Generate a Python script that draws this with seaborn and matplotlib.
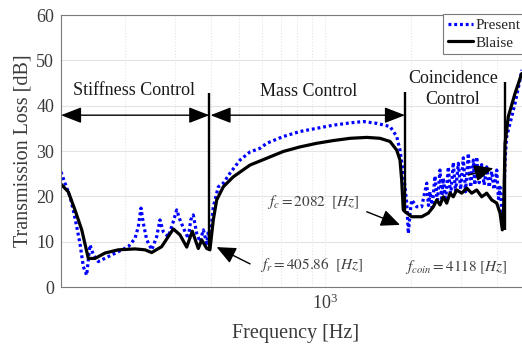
import numpy as np
import pandas as pd
import seaborn as sns
import matplotlib
matplotlib.use("Agg")
import matplotlib.pyplot as plt
from matplotlib.ticker import NullFormatter, LogLocator, FixedLocator

# ---------------- data ----------------
present_freq = [119.4, 123.3, 128.4, 131.8, 135.5, 139.1, 142.9, 146.8, 148.8, 150.8,
                154.9, 161.2, 174.7, 189.4, 205.3, 216.6, 222.5, 227.3, 231.6, 238.1,
                247.9, 257.9, 264.9, 272.0, 283.2, 294.8, 303.0, 311.2, 324.0, 332.7,
                339.2, 346.4, 356.0, 365.6, 375.5, 385.9, 390.8, 396.0,
                406.9, 423.6, 441, 465.4, 504.5, 546.8, 592.6, 625.5, 714.8, 817.5,
                935.5, 1069, 1223, 1361, 1516, 1688, 1781, 1829, 1878, 1904, 1931,
                1956, 1983, 2010, 2093, 2178, 2268, 2300, 2329, 2370, 2424, 2470,
                2524, 2560, 2592, 2640, 2699, 2750, 2809, 2860, 2925, 2980, 3045,
                3100, 3170, 3230, 3300, 3340, 3392, 3460, 3531, 3600, 3676, 3750,
                3827, 3900, 3985, 4040, 4093, 4150, 4209, 4261, 4318, 4436, 4617,
                4806, 4874]
present_tl = [25.4, 22.9, 19.9, 17.0, 13.3, 9.6, 4.5, 2.6, 6.0, 9.3,
              7.1, 5.6, 6.7, 7.8, 8.9, 10.7, 13.3, 17.4, 14.1, 10.4,
              8.2, 11.1, 14.8, 12.2, 11.1, 14.4, 17.0, 14.8, 12.2, 10.7,
              14.8, 15.9, 11.8, 10.0, 12.6, 9.6, 12.2, 10.5,
              17.7, 22.1, 22.9, 25.1, 28.0, 29.8, 30.6, 31.7, 33.2, 34.3,
              35.0, 35.7, 36.2, 36.5, 36.1, 35.4, 33.2, 30.2, 25.1, 22.1, 18.5,
              11.8, 16.3, 19.2, 17.7, 17.7, 22.9, 18.0, 21.0, 17.5, 24.5, 18.5,
              25.8, 19.5, 24.0, 19.0, 26.5, 20.0, 27.5, 21.0, 27.3, 21.5, 28.5,
              21.0, 29.5, 22.0, 28.0, 22.5, 28.7, 23.0, 27.0, 22.5, 26.5, 22.0,
              25.5, 21.5, 25.8, 19.5, 22.0, 17.0, 15.5, 28.0, 33.2, 36.1, 40.5,
              45.7, 47.9]

blaise_freq = [119.4, 126.6, 133.6, 141.1, 148.8, 157.0, 170.2, 189.4, 216.6, 234.8,
               247.7, 268.5, 294.9, 311.2, 328.5, 343.6, 360.6, 370.6, 385.9, 396.0,
               406.9, 418.1, 441, 477.9, 546.8, 625.5, 714.8, 817.5, 935.5, 1069,
               1223, 1399, 1557, 1688, 1781, 1829, 1854, 1878, 1904, 2010, 2178,
               2297, 2392, 2459, 2524, 2592, 2664, 2736, 2809, 2887, 3006, 3130,
               3258, 3392, 3531, 3676, 3827, 3985, 4093, 4169, 4216, 4261, 4375,
               4617, 4874]
blaise_tl = [22.7, 21.0, 17.0, 12.6, 6.3, 6.3, 7.5, 8.2, 8.4, 8.2,
             7.6, 8.9, 12.8, 11.5, 8.8, 12.3, 8.5, 10.4, 8.5, 8.2,
             14.8, 19.2, 22.1, 24.3, 26.9, 28.4, 29.9, 30.9, 31.7, 32.3,
             32.8, 33.0, 32.8, 32.1, 30.2, 28.0, 23.6, 17.0, 16.6, 15.5, 15.5,
             16.3, 17.7, 19.2, 18.1, 19.9, 18.5, 20.7, 19.9, 21.4, 20.7, 21.8,
             20.7, 21.4, 19.9, 20.7, 19.2, 18.5, 16.3, 12.6, 17.7, 31.7, 37.6,
             42.7, 47.1]

# region boundaries (Hz) and vertical extent (dB)
boundary_freq = [394.0, 1904.0, 4255.0]
boundary_low = [8.2, 16.6, 12.6]
boundary_high = [42.8, 43.1, 45.3]

region_labels = ["Stiffness Control", "Mass Control", "Coincidence\nControl"]
region_label_x = [214.8, 876.0, 2803.0]
region_label_y = [43.4, 43.1, 43.7]
arrow_y = 37.9

# ---------------- style ----------------
sns.set_style("white")
plt.rcParams["font.family"] = ["Liberation Serif", "DejaVu Serif"]
plt.rcParams["mathtext.fontset"] = "stix"

fig = plt.figure(figsize=(5.22, 3.50), dpi=100)
ax = fig.add_axes([61 / 522, 1 - 287 / 350, (522 - 61) / 522, (287 - 15) / 350])

df_p = pd.DataFrame({"freq": present_freq, "tl": present_tl})
df_b = pd.DataFrame({"freq": blaise_freq, "tl": blaise_tl})

sns.lineplot(data=df_p, x="freq", y="tl", ax=ax, color="#0000ff", lw=2.3,
             linestyle=(0, (0.9, 0.9)), sort=False, estimator=None, label="Present")
sns.lineplot(data=df_b, x="freq", y="tl", ax=ax, color="black", lw=2.3,
             sort=False, estimator=None, label="Blaise")

ax.set_xscale("log")
xmin, xmax = 119.4, 4884
ax.set_xlim(xmin, xmax)
ax.set_ylim(0, 60)
ax.set_yticks(range(0, 61, 10))
ax.xaxis.set_major_locator(FixedLocator([1000]))
ax.xaxis.set_minor_locator(LogLocator(base=10, subs=np.arange(2, 10)))
ax.xaxis.set_minor_formatter(NullFormatter())

# grid
ax.grid(True, which="major", axis="y", color="#e4e4e4", lw=0.8, ls="-")
ax.grid(True, which="major", axis="x", color="#e4e4e4", lw=0.8, ls=":")
ax.grid(True, which="minor", axis="x", color="#e4e4e4", lw=0.8, ls=":")
ax.set_axisbelow(True)

for side in ["left", "bottom", "top"]:
    ax.spines[side].set_color("#7a7a7a")
    ax.spines[side].set_linewidth(0.8)
ax.spines["right"].set_visible(False)

ax.tick_params(axis="both", which="both", direction="in", colors="#7a7a7a",
               labelcolor="#3a3a3a", labelsize=13)
ax.tick_params(axis="y", pad=5, length=4)
ax.tick_params(axis="x", which="major", pad=5, length=4)
ax.tick_params(axis="x", which="minor", length=2.5)

ax.set_xlabel("Frequency [Hz]", fontsize=14.5, color="#3a3a3a")
ax.set_ylabel("Transmission Loss [dB]", fontsize=14.5, color="#3a3a3a")
ax.yaxis.set_label_coords(-0.062, 0.5)
ax.xaxis.set_label_coords(0.509, -0.135)

# boundary lines
for f, lo, hi in zip(boundary_freq, boundary_low, boundary_high):
    ax.plot([f, f], [lo, hi], color="black", lw=1.7, solid_capstyle="butt")

# region arrows
arrow_kw = dict(arrowstyle="<|-|>,head_length=0.9,head_width=0.35", color="black",
                lw=1.0, mutation_scale=14, shrinkA=0, shrinkB=0)
ax.annotate("", xy=(boundary_freq[0], arrow_y), xytext=(xmin, arrow_y), arrowprops=arrow_kw)
ax.annotate("", xy=(boundary_freq[1], arrow_y), xytext=(boundary_freq[0] * 1.01, arrow_y),
            arrowprops=arrow_kw)

for lab, x, y in zip(region_labels, region_label_x, region_label_y):
    ax.text(x, y, lab, ha="center", va="center", fontsize=13, color="#1a1a1a",
            linespacing=1.3)

# frequency annotations
ann_kw = dict(arrowstyle="-|>,head_length=0.9,head_width=0.4", color="black",
              lw=1.0, mutation_scale=13, shrinkA=0, shrinkB=0)
ax.annotate("", xy=(418, 8.8), xytext=(547, 5.1), arrowprops=ann_kw)
ax.annotate("", xy=(1829, 13.7), xytext=(1399, 16.6), arrowprops=ann_kw)
ax.annotate("", xy=(3877, 26.2), xytext=(3170, 24.7), arrowprops=ann_kw)

txt_kw = dict(fontsize=11, color="#404040", va="center", ha="left")
ax.text(593, 4.85, r"$f_r = 405.86\ \ [Hz]$", **txt_kw)
ax.text(625, 18.8, r"$f_c = 2082\ \ [Hz]$", **txt_kw)
ax.text(1904, 4.5, r"$f_{coin} = 4118\ [Hz]$", **txt_kw)

# legend
leg = ax.legend(loc="upper left", bbox_to_anchor=(443 / 522, 1 - 14 / 350),
                bbox_transform=fig.transFigure, borderaxespad=0, fontsize=11,
                frameon=True, fancybox=False, framealpha=1, edgecolor="#7a7a7a",
                handlelength=1.65, handletextpad=0.15, labelspacing=0.25, borderpad=0.3)
leg.get_frame().set_linewidth(0.8)

fig.savefig("out.png", dpi=100)
